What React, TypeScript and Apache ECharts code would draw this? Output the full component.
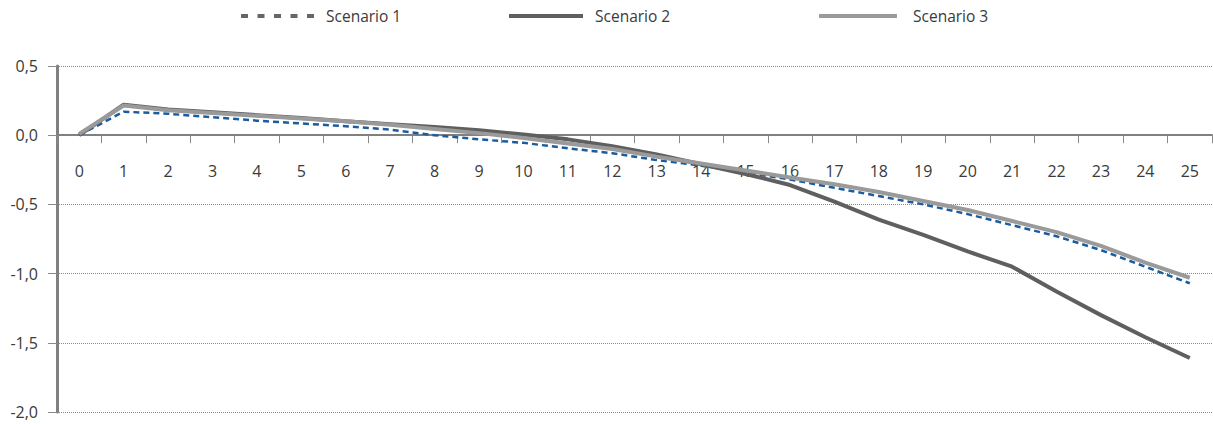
import React, { useEffect, useRef } from "react";
import * as echarts from "echarts";

const categories = Array.from({ length: 26 }, (_, i) => String(i));
const scenario1 = [0.0, 0.17, 0.155, 0.13, 0.105, 0.085, 0.065, 0.04, 0.0, -0.03, -0.055, -0.095, -0.13, -0.18, -0.22, -0.27, -0.32, -0.38, -0.44, -0.5, -0.57, -0.65, -0.73, -0.83, -0.95, -1.07];
const scenario2 = [0.0, 0.22, 0.185, 0.165, 0.145, 0.125, 0.1, 0.08, 0.06, 0.035, 0.005, -0.03, -0.08, -0.14, -0.21, -0.28, -0.36, -0.48, -0.61, -0.72, -0.84, -0.95, -1.13, -1.3, -1.46, -1.61];
const scenario3 = [0.01, 0.215, 0.18, 0.16, 0.14, 0.12, 0.1, 0.075, 0.045, 0.015, -0.02, -0.06, -0.1, -0.155, -0.205, -0.255, -0.305, -0.355, -0.41, -0.475, -0.54, -0.62, -0.7, -0.8, -0.92, -1.03];
const seriesNames = ["Scenario 1", "Scenario 2", "Scenario 3"];
const yMin = -2;
const yMax = 0.5;
const yStep = 0.5;

const FONT = "'Open Sans', 'Noto Sans', sans-serif";
const TEXT = "#3a3a3a";

export default function App() {
  const ref = useRef<HTMLDivElement>(null);
  useEffect(() => {
    if (!ref.current) return;
    const chart = echarts.init(ref.current, null, { renderer: "svg" });
    const legendText = { fontSize: 15.5, color: TEXT, fontFamily: FONT, padding: [0, 0, 0, 7] };
    chart.setOption({
      animation: false,
      textStyle: { fontFamily: FONT },
      legend: [
        {
          left: 239, top: 8, padding: 0, itemWidth: 73, itemHeight: 4,
          textStyle: legendText,
          data: [{ name: seriesNames[0], lineStyle: { color: "#666666", width: 4, type: [7, 9.5] } }],
        },
        {
          left: 507, top: 8, padding: 0, itemWidth: 74, itemHeight: 4,
          textStyle: legendText,
          data: [{ name: seriesNames[1], lineStyle: { color: "#5f5f5f", width: 4 } }],
        },
        {
          left: 817, top: 8, padding: 0, itemWidth: 78, itemHeight: 4,
          textStyle: { ...legendText, padding: [0, 0, 0, 11] },
          data: [{ name: seriesNames[2], lineStyle: { color: "#9a9a9a", width: 4 } }],
        },
      ],
      grid: { left: 57, right: 1, top: 66, bottom: 12, containLabel: false, outerBoundsMode: "none" },
      xAxis: {
        type: "category",
        data: categories,
        boundaryGap: true,
        position: "bottom",
        offset: 0,
        axisLine: { onZero: false, lineStyle: { color: "#808080", width: 2 } },
        axisTick: { show: true, inside: false, length: 8, alignWithLabel: false, lineStyle: { color: "#8a8a8a", width: 1 } },
        axisLabel: { margin: 28, fontSize: 16, color: TEXT, fontFamily: FONT, interval: 0 },
        splitLine: { show: false },
      },
      yAxis: {
        type: "value",
        min: yMin,
        max: yMax,
        interval: yStep,
        axisLine: { show: true, lineStyle: { color: "#808080", width: 3 } },
        axisTick: { show: true, length: 9, lineStyle: { color: "#8a8a8a", width: 1 } },
        axisLabel: {
          margin: 19, fontSize: 16, color: TEXT, fontFamily: FONT,
          formatter: (v: number) => v.toFixed(1).replace(".", ","),
        },
        splitLine: { show: true, lineStyle: { color: "#8a8a8a", type: [1, 1], width: 1 } },
      },
      series: [
        {
          name: seriesNames[0], type: "line", data: scenario1, symbol: "none", showSymbol: false, z: 3,
          lineStyle: { color: "#1a5c9e", width: 2.5, type: [6, 4] }, itemStyle: { color: "#666666" },
        },
        {
          name: seriesNames[1], type: "line", data: scenario2, symbol: "none", showSymbol: false, z: 4,
          lineStyle: { color: "#5f5f5f", width: 4 }, itemStyle: { color: "#5f5f5f" },
        },
        {
          name: seriesNames[2], type: "line", data: scenario3, symbol: "none", showSymbol: false, z: 5,
          lineStyle: { color: "#9a9a9a", width: 4 }, itemStyle: { color: "#9a9a9a" },
        },
      ],
    });
    // place the category axis on the zero line using the value axis' own scale
    const yZero = chart.convertToPixel({ yAxisIndex: 0 }, 0) as number;
    const yBottom = chart.convertToPixel({ yAxisIndex: 0 }, yMin) as number;
    chart.setOption({ xAxis: { offset: -(yBottom - yZero) } });
    return () => chart.dispose();
  }, []);
  return (
    <div
      ref={ref}
      style={{ position: "fixed", left: 0, top: 0, width: 1213, height: 424, background: "#ffffff" }}
    />
  );
}
